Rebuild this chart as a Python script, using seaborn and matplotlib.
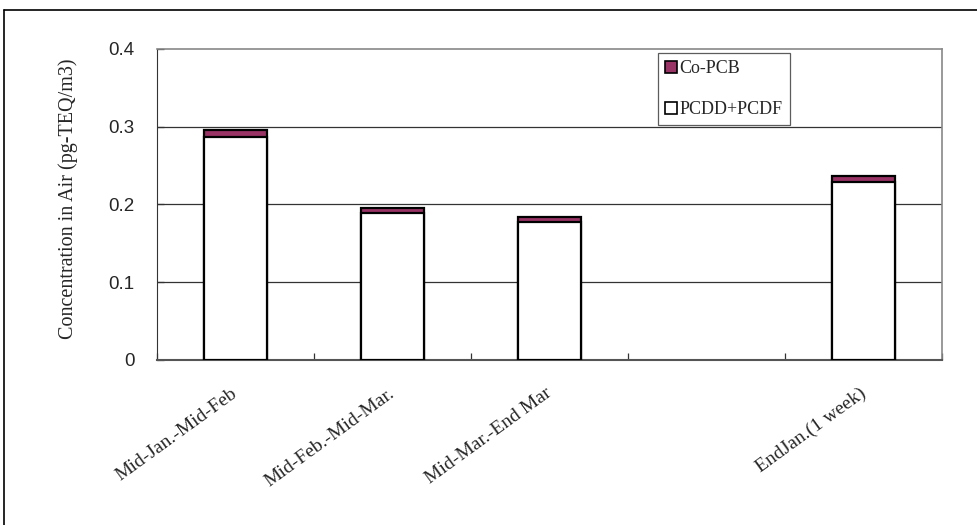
import numpy as np
import pandas as pd
import matplotlib
matplotlib.use("Agg")
import matplotlib.pyplot as plt
from matplotlib.patches import Patch
from matplotlib.lines import Line2D
import seaborn as sns

# Sampling periods (the blank slot keeps the gap before the one-week sample)
periods = ["Mid-Jan.-Mid-Feb", "Mid-Feb.-Mid-Mar.", "Mid-Mar.-End Mar", "EndJan.(1 week)"]
slot_order = ["Mid-Jan.-Mid-Feb", "Mid-Feb.-Mid-Mar.", "Mid-Mar.-End Mar", " ", "EndJan.(1 week)"]
pcdd_pcdf = [0.287, 0.189, 0.178, 0.229]
co_pcb = [0.009, 0.007, 0.006, 0.007]
y_ticks = [0, 0.1, 0.2, 0.3, 0.4]
y_tick_labels = ["0", "0.1", "0.2", "0.3", "0.4"]

co_pcb_color = "#993366"

df = pd.DataFrame({
    "period": periods,
    "PCDD+PCDF": pcdd_pcdf,
    "Co-PCB": co_pcb,
})
df["total"] = df["PCDD+PCDF"] + df["Co-PCB"]

sns.set_style("white")
serif = ["Liberation Serif", "DejaVu Serif"]
sans = ["Liberation Sans", "DejaVu Sans"]

fig = plt.figure(figsize=(9.78, 5.25), dpi=100)
ax = fig.add_axes([0.1605, 0.3143, 0.8027, 0.5924])

# stacked bars: full height in Co-PCB colour, PCDD+PCDF drawn over it
sns.barplot(data=df, x="period", y="total", order=slot_order, color=co_pcb_color,
            saturation=1, width=0.4, edgecolor="black", linewidth=1.6, ax=ax, zorder=3)
sns.barplot(data=df, x="period", y="PCDD+PCDF", order=slot_order, color="white",
            saturation=1, width=0.4, edgecolor="black", linewidth=1.6, ax=ax, zorder=4)

ax.set_xlim(-0.5, len(slot_order) - 0.5)
ax.set_ylim(0, 0.4)
ax.set_yticks(y_ticks)
ax.set_yticklabels(y_tick_labels, fontfamily=sans, fontsize=13.5)
for y in y_ticks[1:-1]:
    ax.axhline(y, color="#333333", linewidth=0.9, zorder=1)

# category boundary ticks on the x axis
ax.set_xticks(np.arange(len(slot_order) + 1) - 0.5, minor=True)
ax.tick_params(axis="x", which="minor", direction="in", length=5, width=0.9, color="#333333", bottom=True)
ax.set_xticks(range(len(slot_order)))
ax.set_xticklabels([])
ax.tick_params(axis="x", which="major", length=0)
ax.tick_params(axis="y", direction="in", length=5, width=0.9, left=True, pad=16)

for i, name in enumerate(slot_order):
    if name.strip():
        ax.text(i - 0.03, -0.032, name, rotation=36, ha="right", va="top",
                rotation_mode="anchor", fontfamily=serif, fontsize=14)

ax.set_xlabel("")
ax.set_ylabel("Concentration in Air (pg-TEQ/m3)", fontfamily=serif, fontsize=14.5)
ax.yaxis.set_label_coords(-0.1, 0.52)

for side in ["top", "right"]:
    ax.spines[side].set_color("#888888")
    ax.spines[side].set_linewidth(1.2)
ax.spines["left"].set_color("#333333")
ax.spines["bottom"].set_color("#555555")
ax.spines["bottom"].set_linewidth(1.5)

handles = [
    Patch(facecolor=co_pcb_color, edgecolor="black", linewidth=1.2, label="Co-PCB"),
    Patch(facecolor="white", edgecolor="black", linewidth=1.2, label="PCDD+PCDF"),
]
leg = ax.legend(handles=handles, loc="upper right", bbox_to_anchor=(0.806, 0.987),
                prop={"family": serif, "size": 13}, frameon=True, fancybox=False,
                handlelength=0.65, handleheight=0.65, handletextpad=0.15,
                labelspacing=1.35, borderpad=0.38, borderaxespad=0)
leg.get_frame().set_edgecolor("#333333")
leg.get_frame().set_linewidth(0.9)
leg.set_zorder(6)

# outer chart frame
fig.add_artist(Line2D([0.0045, 0.0045], [0.0, 0.981], transform=fig.transFigure, color="black", linewidth=1.2))
fig.add_artist(Line2D([0.0045, 1.0], [0.981, 0.981], transform=fig.transFigure, color="black", linewidth=1.2))

fig.savefig("out.png", dpi=100)
